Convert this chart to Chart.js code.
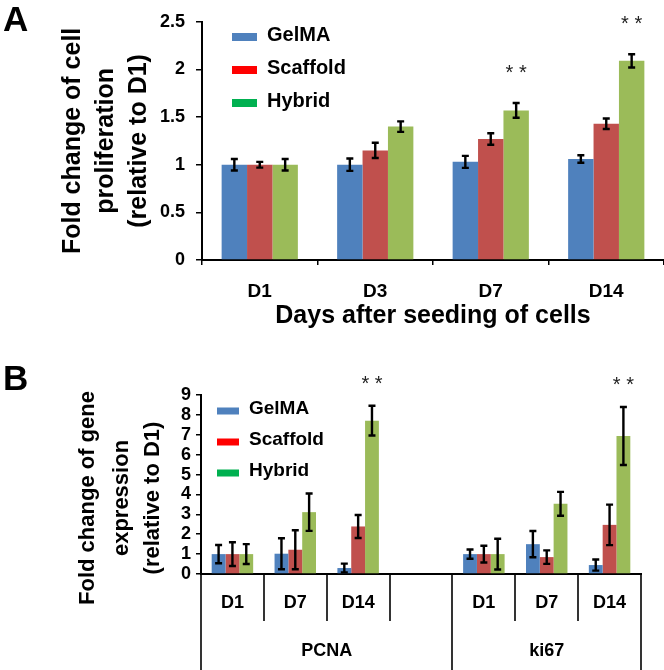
<!DOCTYPE html>
<html><head><meta charset="utf-8">
<script src="https://cdn.jsdelivr.net/npm/chart.js@4.4.0/dist/chart.umd.min.js"></script>
<style>
html,body{margin:0;padding:0;background:#fff;}
#wrap{position:relative;width:664px;height:670px;overflow:hidden;background:#fff;}
#cA{position:absolute;left:0;top:0;}
#cB{position:absolute;left:0;top:330px;}
.lbl{position:absolute;font:bold 35px "Liberation Sans",Arial,sans-serif;color:#000;line-height:40px;}
</style></head>
<body><div id="wrap">
<canvas id="cA" width="664" height="330"></canvas>
<canvas id="cB" width="664" height="340"></canvas>
<div class="lbl" style="left:3px;top:-1px">A</div>
<div class="lbl" style="left:3px;top:358px">B</div>
</div>
<script>
// ---------- data: panel A ----------
const daysA = ['D1', 'D3', 'D7', 'D14'];
const gelmaA = [1.00, 1.00, 1.03, 1.06];
const scaffoldA = [1.00, 1.15, 1.27, 1.43];
const hybridA = [1.00, 1.40, 1.57, 2.09];
const gelmaAErr = [0.06, 0.065, 0.063, 0.04];
const scaffoldAErr = [0.03, 0.08, 0.06, 0.055];
const hybridAErr = [0.06, 0.055, 0.077, 0.07];
const hybridASig = [null, null, '* *', '* *'];
const yTicksA = {min: 0, max: 2.5, step: 0.5};
const yTitleA = ['Fold change of cell', 'proliferation', '(relative to D1)'];
const xTitleA = 'Days after seeding of cells';

// ---------- data: panel B ----------
const genesB = ['PCNA', 'ki67'];
const geneGroupSizes = [4, 3];
const daysB = ['D1', 'D7', 'D14', '', 'D1', 'D7', 'D14'];
const gelmaB = [1.0, 1.02, 0.30, null, 1.0, 1.5, 0.45];
const scaffoldB = [1.0, 1.22, 2.39, null, 1.0, 0.85, 2.47];
const hybridB = [1.0, 3.11, 7.71, null, 1.0, 3.53, 6.94];
const gelmaBErr = [0.46, 0.78, 0.22, null, 0.23, 0.66, 0.28];
const scaffoldBErr = [0.60, 0.98, 0.58, null, 0.42, 0.34, 1.02];
const hybridBErr = [0.50, 0.94, 0.75, null, 0.77, 0.60, 1.46];
const hybridBSig = [null, null, '* *', null, null, null, '* *'];
const yTicksB = {min: 0, max: 9, step: 1};
const yTitleB = ['Fold change of gene', 'expression', '(relative to D1)'];

const seriesNames = ['GelMA', 'Scaffold', 'Hybrid'];
const barColors = ['#4F81BD', '#C0504D', '#9BBB59'];
const legendColors = ['#4F81BD', '#FF0000', '#00B050'];

const FONT = '"Liberation Sans", Arial, sans-serif';
Chart.defaults.color = '#000';
Chart.defaults.font.family = FONT;

const errorBarPlugin = {
  id: 'errbars',
  afterDatasetsDraw(chart, args, opts) {
    const ctx = chart.ctx, y = chart.scales.y;
    chart.data.datasets.forEach((ds, di) => {
      const meta = chart.getDatasetMeta(di);
      meta.data.forEach((bar, i) => {
        const v = ds.data[i], e = ds.errors ? ds.errors[i] : null;
        if (v == null || e == null) return;
        const x = bar.x;
        const yt = y.getPixelForValue(v + e), yb = y.getPixelForValue(v - e);
        ctx.save();
        ctx.strokeStyle = '#000';
        ctx.lineWidth = opts.lineWidth;
        ctx.beginPath();
        ctx.moveTo(x, yt); ctx.lineTo(x, yb);
        ctx.moveTo(x - opts.cap, yt); ctx.lineTo(x + opts.cap, yt);
        ctx.moveTo(x - opts.cap, yb); ctx.lineTo(x + opts.cap, yb);
        ctx.stroke();
        if (ds.sig && ds.sig[i]) {
          ctx.fillStyle = '#222';
          ctx.font = opts.sigFont;
          ctx.textAlign = 'center';
          ctx.textBaseline = 'middle';
          ctx.fillText(ds.sig[i], x, yt - opts.sigGap);
        }
        ctx.restore();
      });
    });
  }
};

const legendPlugin = {
  id: 'insideLegend',
  afterDraw(chart, args, opts) {
    const ctx = chart.ctx;
    chart.data.datasets.forEach((ds, i) => {
      const cy = opts.y0 + i * opts.dy;
      ctx.save();
      ctx.fillStyle = legendColors[i];
      ctx.fillRect(opts.x, cy - opts.sh / 2, opts.sw, opts.sh);
      ctx.fillStyle = '#000';
      ctx.font = opts.font;
      ctx.textAlign = 'left';
      ctx.textBaseline = 'middle';
      ctx.fillText(ds.label, opts.x + opts.sw + opts.gap, cy - 2);
      ctx.restore();
    });
  }
};

const rotTitlePlugin = {
  id: 'rotTitle',
  afterDraw(chart, args, opts) {
    if (!opts.lines) return;
    const ctx = chart.ctx;
    opts.lines.forEach((t, i) => {
      ctx.save();
      ctx.translate(opts.xs[i], opts.cy);
      ctx.rotate(-Math.PI / 2);
      ctx.fillStyle = '#000';
      ctx.font = opts.font;
      ctx.textAlign = 'center';
      ctx.textBaseline = 'middle';
      ctx.fillText(t, 0, 0);
      ctx.restore();
    });
  }
};

const groupAxisPlugin = {
  id: 'groupAxis',
  afterDraw(chart, args, opts) {
    if (!opts.enabled) return;
    const xs = chart.scales.x, ca = chart.chartArea, ctx = chart.ctx;
    const w = xs.getPixelForValue(1) - xs.getPixelForValue(0);
    const H = chart.height;
    ctx.save();
    ctx.strokeStyle = '#000';
    ctx.lineWidth = 1.6;
    const longIdx = [0];
    let acc = 0;
    geneGroupSizes.forEach(s => { acc += s; longIdx.push(acc); });
    for (let i = 0; i <= daysB.length; i++) {
      const px = Math.round(xs.getPixelForValue(i) - w / 2);
      const long = longIdx.includes(i);
      ctx.beginPath();
      ctx.moveTo(px, ca.bottom);
      ctx.lineTo(px, long ? H : ca.bottom + opts.shortLen);
      ctx.stroke();
    }
    ctx.fillStyle = '#000';
    ctx.font = opts.font;
    ctx.textAlign = 'center';
    ctx.textBaseline = 'middle';
    daysB.forEach((d, i) => {
      if (d) ctx.fillText(d, xs.getPixelForValue(i), ca.bottom + opts.lvl1);
    });
    let start = 0;
    genesB.forEach((g, gi) => {
      const n = geneGroupSizes[gi];
      const cx = (xs.getPixelForValue(start) + xs.getPixelForValue(start + n - 1)) / 2;
      ctx.fillText(g, cx, ca.bottom + opts.lvl2);
      start += n;
    });
    ctx.restore();
  }
};

function makeDatasets(g, s, h, ge, se, he, sig) {
  const vals = [g, s, h], errs = [ge, se, he];
  return vals.map((v, i) => ({
    label: seriesNames[i],
    data: v,
    errors: errs[i],
    sig: i === 2 ? sig : null,
    backgroundColor: barColors[i],
    borderWidth: 0,
    categoryPercentage: 0.66,
    barPercentage: 1.0
  }));
}

const plainNum = v => String(+Number(v).toFixed(2));

// ---------- chart A ----------
new Chart(document.getElementById('cA'), {
  type: 'bar',
  data: {
    labels: daysA,
    datasets: makeDatasets(gelmaA, scaffoldA, hybridA, gelmaAErr, scaffoldAErr, hybridAErr, hybridASig)
  },
  options: {
    responsive: false,
    animation: false,
    layout: {padding: {top: 11, right: 0, bottom: 0, left: 0}},
    plugins: {
      legend: {display: false},
      tooltip: {enabled: false},
      errbars: {lineWidth: 2.4, cap: 3.5, sigFont: '20px ' + FONT, sigGap: 30},
      insideLegend: {x: 232, y0: 37, dy: 33, sw: 25, sh: 8, gap: 10, font: 'bold 20px ' + FONT},
      rotTitle: {lines: null},
      groupAxis: {enabled: false}
    },
    scales: {
      x: {
        grid: {display: true, drawOnChartArea: false, drawTicks: true, tickLength: 5, offset: true, color: '#000', lineWidth: 1.5},
        border: {display: true, color: '#000', width: 2},
        ticks: {font: {size: 19, weight: 'bold'}, padding: 15, color: '#000'},
        title: {display: true, text: xTitleA, font: {size: 25, weight: 'bold'}, padding: {top: 0, bottom: -1}, color: '#000'},
        afterFit(s) { s.height = 70; }
      },
      y: {
        min: yTicksA.min, max: yTicksA.max,
        grid: {drawOnChartArea: false, drawTicks: true, tickLength: 6, color: '#000', lineWidth: 1.5},
        border: {display: true, color: '#000', width: 2},
        ticks: {stepSize: yTicksA.step, autoSkip: false, font: {size: 18, weight: 'bold'}, padding: 11, color: '#000', callback: plainNum},
        title: {display: true, text: yTitleA, font: {size: 25, weight: 'bold', lineHeight: 1.32}, padding: {top: 57, bottom: 0}, color: '#000'},
        afterFit(s) { s.width = 202; }
      }
    }
  },
  plugins: [errorBarPlugin, legendPlugin, rotTitlePlugin, groupAxisPlugin]
});

// ---------- chart B ----------
new Chart(document.getElementById('cB'), {
  type: 'bar',
  data: {
    labels: daysB,
    datasets: makeDatasets(gelmaB, scaffoldB, hybridB, gelmaBErr, scaffoldBErr, hybridBErr, hybridBSig)
  },
  options: {
    responsive: false,
    animation: false,
    layout: {padding: {top: 65, right: 23, bottom: 0, left: 0}},
    plugins: {
      legend: {display: false},
      tooltip: {enabled: false},
      errbars: {lineWidth: 2.4, cap: 3.5, sigFont: '20px ' + FONT, sigGap: 21},
      insideLegend: {x: 217, y0: 81, dy: 31, sw: 22, sh: 7, gap: 10, font: 'bold 19px ' + FONT},
      rotTitle: {lines: yTitleB, xs: [88, 122, 153], cy: 168, font: 'bold 22px ' + FONT},
      groupAxis: {enabled: true, shortLen: 47, lvl1: 29, lvl2: 77, font: 'bold 18px ' + FONT}
    },
    scales: {
      x: {
        grid: {display: false},
        border: {display: true, color: '#000', width: 2},
        ticks: {display: false},
        afterFit(s) { s.height = 96; }
      },
      y: {
        min: yTicksB.min, max: yTicksB.max,
        grid: {drawOnChartArea: false, drawTicks: true, tickLength: 5, color: '#000', lineWidth: 1.5},
        border: {display: true, color: '#000', width: 2},
        ticks: {stepSize: yTicksB.step, autoSkip: false, font: {size: 18, weight: 'bold'}, padding: 5, color: '#000', callback: plainNum},
        title: {display: false},
        afterFit(s) { s.width = 201; }
      }
    }
  },
  plugins: [errorBarPlugin, legendPlugin, rotTitlePlugin, groupAxisPlugin]
});
</script></body></html>
